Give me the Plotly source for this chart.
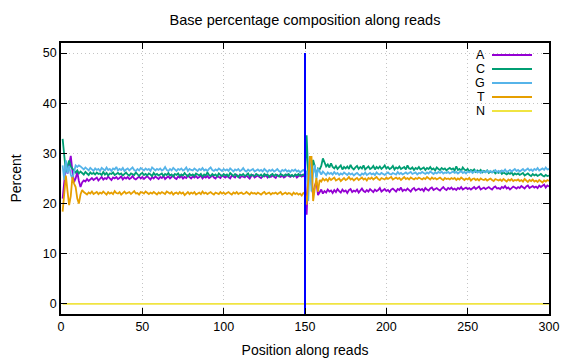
import plotly.graph_objects as go

positions = list(range(1, 301))

A = [21.0, 24.5, 27.6, 26.0, 28.0, 29.5, 26.5, 24.3, 25.0, 26.3, 24.5, 23.3, 24.2, 24.6, 24.4, 24.9, 24.5, 24.8, 25.1, 24.7,
     24.9, 25.2, 24.6, 25.0, 25.3, 24.8, 25.1, 24.9, 25.4, 25.0, 24.7, 25.2, 25.0, 25.3, 24.9, 25.1, 25.4, 24.8, 25.2, 25.0,
     25.3, 24.9, 25.1, 25.5, 25.0, 24.8, 25.2, 25.4, 25.0, 25.3, 24.9, 25.2, 25.5, 25.1, 24.8, 25.3, 25.0, 25.4, 25.2, 24.9,
     25.3, 25.1, 25.5, 24.9, 25.2, 25.4, 25.0, 25.3, 25.6, 25.1, 24.9, 25.4, 25.2, 25.5, 25.0, 25.3, 25.1, 25.6, 25.2, 25.0,
     25.4, 25.2, 25.5, 25.1, 25.3, 25.6, 25.0, 25.4, 25.2, 25.5, 25.1, 25.3, 25.7, 25.2, 25.0, 25.5, 25.3, 25.1, 25.6, 25.4,
     25.2, 25.5, 25.3, 25.0, 25.6, 25.4, 25.2, 25.7, 25.3, 25.1, 25.5, 25.4, 25.2, 25.6, 25.3, 25.0, 25.5, 25.7, 25.2, 25.4,
     25.6, 25.3, 25.1, 25.5, 25.4, 25.7, 25.2, 25.5, 25.3, 25.6, 25.4, 25.1, 25.7, 25.5, 25.3, 25.6, 25.2, 25.4, 25.8, 25.5,
     25.3, 25.6, 25.4, 25.7, 25.2, 25.5, 25.8, 25.4, 25.6, 25.3,
     17.8, 25.7, 27.0, 24.0, 21.7, 23.5, 24.4, 21.7, 22.3, 22.8, 22.0, 22.5, 22.2, 22.8, 22.4,
     22.6, 22.1, 22.7, 22.3, 22.9, 22.5, 22.2, 22.8, 22.4, 22.6, 22.1, 22.7, 22.9, 22.3, 22.6,
     22.4, 22.8, 22.2, 22.6, 23.0, 22.5, 22.3, 22.7, 22.4, 22.9, 22.6, 22.3, 22.8, 22.5, 22.7, 23.1, 22.4, 22.6, 22.9, 22.5,
     22.7, 22.3, 22.8, 23.0, 22.6, 22.4, 22.9, 22.7, 23.2, 22.5, 22.8, 22.6, 23.0, 22.7, 22.4, 22.9, 23.1, 22.6, 22.8, 23.0,
     22.7, 22.9, 22.5, 23.1, 22.8, 22.6, 23.0, 23.2, 22.7, 22.9, 23.1, 22.8, 22.6, 23.0, 23.3, 22.9, 22.7, 23.1, 22.9, 23.2,
     22.8, 23.0, 22.7, 23.1, 22.9, 23.3, 22.8, 23.0, 23.2, 22.9, 23.1, 22.8, 23.0, 23.3, 22.9, 23.1, 23.4, 22.8, 23.0, 23.2,
     22.9, 23.1, 23.3, 23.0, 22.8, 23.2, 23.4, 23.0, 23.1, 22.9, 23.3, 23.1, 23.5, 23.0, 23.2, 22.8, 23.1, 23.4, 23.2, 23.0,
     23.3, 23.1, 23.5, 23.2, 23.0, 23.4, 23.6, 23.1, 23.3, 23.5, 23.2, 23.4, 23.1, 23.6, 23.3, 23.5, 23.8, 23.2, 23.6, 23.4]

C = [32.9, 28.9, 26.3, 27.5, 28.6, 27.4, 27.0, 26.5, 26.2, 26.6, 26.0, 26.4, 26.1, 25.8, 26.3, 26.0, 25.7, 26.2, 25.9, 26.1,
     25.8, 26.2, 25.9, 26.0, 25.7, 26.3, 25.8, 26.1, 25.6, 26.0, 25.9, 26.2, 25.7, 25.9, 26.1, 25.8, 26.0, 25.6, 25.9, 26.2,
     25.8, 25.6, 26.0, 25.9, 25.7, 26.2, 25.8, 25.5, 25.9, 26.1, 25.7, 25.9, 25.6, 26.0, 25.8, 25.5, 26.1, 25.7, 25.9, 25.6,
     25.8, 26.0, 25.5, 25.9, 25.7, 26.1, 25.6, 25.8, 25.4, 25.9, 25.7, 26.0, 25.5, 25.8, 25.6, 26.1, 25.7, 25.4, 25.9, 25.6,
     25.8, 25.5, 26.0, 25.7, 25.6, 25.9, 25.4, 25.8, 25.6, 26.2, 25.7, 25.5, 25.9, 25.6, 25.8, 25.4, 26.0, 25.7, 25.5, 25.9,
     25.6, 25.8, 25.4, 26.1, 25.7, 25.5, 25.9, 25.6, 25.3, 25.8, 25.6, 25.9, 25.5, 25.7, 26.0, 25.4, 25.8, 25.6, 25.5, 25.9,
     25.7, 25.5, 25.8, 25.4, 25.9, 25.6, 25.8, 25.3, 25.7, 25.9, 25.5, 25.8, 25.6, 25.4, 25.9, 25.7, 25.5, 25.8, 25.6, 25.9,
     25.5, 25.7, 25.4, 25.8, 25.6, 25.9, 25.5, 25.7, 25.8, 25.6,
     33.6, 25.7, 26.0, 26.4, 28.7, 27.4, 25.4, 27.0, 26.8, 27.5, 29.0, 28.2, 27.4, 27.8, 27.2,
     28.0, 27.3, 27.0, 27.5, 26.9, 27.2, 27.6, 26.8, 27.3, 27.0, 27.4, 26.9, 27.7, 27.1, 26.8,
     27.2, 27.5, 26.9, 27.3, 27.0, 27.6, 26.8, 27.2, 27.4, 26.9, 27.1, 27.5, 26.8, 27.3, 27.0, 27.4, 26.9, 27.2, 27.6, 27.0,
     27.3, 26.9, 27.1, 27.5, 26.8, 27.2, 27.0, 27.4, 26.9, 27.1, 27.3, 26.8, 27.6, 27.0, 26.9, 27.2, 26.7, 27.1, 26.9, 27.3,
     26.8, 27.0, 27.2, 26.7, 27.1, 26.9, 27.3, 26.8, 27.0, 26.6, 27.2, 26.9, 26.7, 27.1, 26.8, 27.0, 26.6, 26.9, 27.1, 26.8,
     27.0, 26.6, 27.4, 26.7, 26.9, 26.5, 27.2, 26.8, 26.6, 26.9, 26.4, 26.7, 26.5, 26.8, 26.3, 26.6, 26.4, 26.7, 26.2, 26.5,
     26.3, 26.6, 26.1, 26.4, 26.2, 26.5, 26.0, 26.3, 26.1, 26.4, 25.9, 26.2, 26.0, 25.8, 26.1, 25.9, 26.2, 25.7, 26.0, 25.8,
     26.0, 25.7, 25.9, 26.1, 25.6, 25.8, 26.0, 25.7, 25.5, 25.9, 25.6, 25.8, 25.5, 25.7, 25.9, 25.6, 25.4, 25.7, 25.5, 25.6]

G = [27.6, 24.7, 28.6, 26.0, 27.5, 25.8, 25.0, 26.2, 27.6, 27.3, 27.6, 27.4, 27.0, 26.8, 27.2, 26.9, 26.6, 27.1, 26.8, 26.5,
     27.0, 26.7, 26.9, 26.5, 27.1, 26.8, 26.6, 27.2, 26.7, 26.9, 26.5, 27.0, 26.8, 27.3, 26.6, 26.9, 26.7, 27.1, 26.5, 26.8,
     27.0, 26.6, 26.9, 27.2, 26.7, 26.5, 26.9, 26.6, 27.1, 26.8, 26.6, 27.0, 26.7, 26.9, 26.5, 27.2, 26.8, 26.6, 26.9, 26.7,
     27.0, 26.6, 26.8, 27.3, 26.7, 26.5, 26.9, 26.6, 27.1, 26.8, 26.5, 26.9, 26.7, 27.0, 26.6, 26.8, 27.2, 26.5, 26.9, 26.7,
     26.6, 27.0, 26.8, 26.5, 26.9, 26.7, 27.1, 26.6, 26.8, 26.5, 26.9, 27.2, 26.7, 26.5, 26.8, 26.6, 27.0, 26.7, 26.5, 26.9,
     26.6, 26.8, 26.5, 27.0, 26.7, 26.4, 26.8, 26.6, 26.9, 26.5, 26.7, 27.1, 26.6, 26.4, 26.8, 26.5, 26.7, 26.9, 26.4, 26.6,
     26.8, 26.5, 26.7, 26.4, 26.9, 26.6, 26.3, 26.7, 26.5, 26.8, 26.4, 26.6, 26.9, 26.5, 26.3, 26.7, 26.5, 26.8, 26.4, 26.6,
     26.3, 26.7, 26.5, 26.8, 26.4, 26.6, 26.2, 26.5, 26.7, 26.4,
     26.4, 20.5, 29.0, 22.4, 26.0, 27.7, 25.0, 27.0, 26.3, 25.8, 26.4, 26.0, 25.7, 26.2, 25.9,
     26.1, 25.8, 26.3, 25.9, 26.1, 25.7, 26.0, 25.8, 26.2, 25.9, 25.7, 26.1, 25.8, 26.0, 25.6,
     25.9, 26.1, 25.8, 25.6, 26.0, 25.8, 26.2, 25.7, 25.9, 26.1, 25.8, 26.0, 25.7, 26.2, 25.9, 25.8, 26.1, 25.9, 25.7, 26.0,
     26.2, 25.9, 25.8, 26.1, 26.0, 25.8, 26.3, 25.9, 26.1, 25.8, 26.0, 26.2, 25.9, 26.1, 26.3, 25.9, 26.0, 26.2, 25.8, 26.1,
     26.0, 26.3, 26.1, 25.9, 26.2, 26.0, 26.4, 26.1, 25.9, 26.2, 26.0, 26.3, 26.1, 26.4, 26.0, 26.2, 26.1, 26.3, 26.0, 26.2,
     26.4, 26.1, 26.3, 26.0, 26.2, 26.5, 26.1, 26.3, 26.0, 26.4, 26.2, 26.5, 26.1, 26.3, 26.6, 26.2, 26.4, 26.1, 26.5, 26.3,
     26.2, 26.6, 26.3, 26.5, 26.2, 26.4, 26.7, 26.3, 26.5, 26.2, 26.6, 26.4, 26.8, 26.3, 26.5, 26.7, 26.4, 26.6, 26.9, 26.5,
     26.7, 26.4, 26.6, 26.9, 26.5, 26.7, 27.0, 26.6, 26.8, 26.5, 26.9, 26.7, 27.1, 26.6, 26.8, 27.0, 26.7, 27.2, 26.8, 26.9]

T = [18.4, 22.3, 25.6, 22.5, 19.7, 21.5, 25.3, 24.0, 23.3, 21.0, 20.0, 21.8, 22.7, 22.3, 22.0, 21.8, 22.2, 22.0, 22.4, 21.9,
     22.1, 22.3, 21.9, 22.2, 22.0, 22.4, 22.1, 21.8, 22.3, 22.0, 22.2, 21.9, 22.5, 22.1, 22.0, 22.3, 21.8, 22.2, 22.4, 22.0,
     22.1, 22.3, 21.9, 22.2, 22.5, 22.0, 22.1, 21.8, 22.3, 22.2, 22.0, 22.4, 22.1, 21.9, 22.2, 22.0, 22.3, 22.1, 21.8, 22.2,
     22.0, 22.3, 22.1, 21.9, 22.4, 22.2, 22.0, 22.3, 21.8, 22.1, 22.2, 21.9, 22.3, 22.0, 22.2, 21.7, 22.1, 22.3, 21.9, 22.2,
     22.0, 22.3, 21.8, 22.1, 22.2, 21.9, 22.4, 22.0, 22.2, 21.9, 22.1, 22.3, 22.0, 21.8, 22.2, 22.1, 21.9, 22.3, 22.0, 22.2,
     21.9, 22.1, 22.3, 22.0, 21.8, 22.2, 22.0, 22.3, 21.9, 22.1, 22.2, 21.9, 22.0, 22.3, 22.1, 21.8, 22.2, 22.0, 22.1, 21.9,
     22.2, 22.0, 21.8, 22.1, 22.3, 21.9, 22.0, 22.2, 21.8, 22.1, 22.0, 22.2, 21.9, 22.1, 22.3, 21.8, 22.0, 22.2, 21.9, 22.1,
     22.0, 21.7, 22.2, 21.9, 22.1, 21.8, 22.0, 21.6, 22.1, 21.9,
     19.8, 25.0, 29.3, 29.3, 20.5, 23.0, 25.1, 22.4, 24.7, 24.4, 25.0, 24.6, 24.9, 24.5, 25.1,
     24.7, 24.9, 25.2, 24.6, 24.8, 25.0, 24.5, 24.9, 25.1, 24.7, 24.9, 25.3, 24.8, 25.0, 24.6,
     24.9, 25.1, 24.7, 25.0, 25.2, 24.8, 25.0, 24.6, 25.1, 24.9, 25.2, 24.8, 25.0, 25.3, 24.9, 24.7, 25.1, 25.0, 24.8, 25.2,
     24.9, 25.1, 25.3, 24.8, 25.0, 25.2, 24.9, 25.1, 24.7, 25.0, 25.3, 24.9, 25.1, 24.8, 25.2, 25.0, 24.8, 25.1, 24.9, 25.2,
     25.0, 24.8, 25.1, 24.9, 25.3, 25.0, 24.8, 25.2, 24.9, 25.1, 24.8, 25.0, 25.2, 24.9, 24.7, 25.1, 24.9, 25.0, 24.8, 25.1,
     24.9, 25.1, 24.7, 25.0, 24.8, 25.2, 24.9, 24.7, 25.0, 24.8, 25.1, 24.6, 24.9, 25.0, 24.7, 24.9, 24.6, 25.0, 24.8, 24.7,
     24.9, 24.6, 24.8, 25.0, 24.7, 24.5, 24.9, 24.7, 24.6, 24.8, 24.5, 24.9, 24.7, 24.4, 24.8, 24.6, 24.9, 24.5, 24.7, 24.6,
     24.8, 24.5, 24.7, 24.4, 24.9, 24.6, 24.3, 24.7, 24.5, 24.8, 24.4, 24.6, 24.3, 24.7, 24.5, 24.2, 24.6, 24.4, 24.7, 24.5]

N = [0.0, 0.0, 0.0, 0.0, 0.0, 0.0, 0.0, 0.0, 0.0, 0.0, 0.0, 0.0, 0.0, 0.0, 0.0, 0.0, 0.0, 0.0, 0.0, 0.0,
     0.0, 0.0, 0.0, 0.0, 0.0, 0.0, 0.0, 0.0, 0.0, 0.0, 0.0, 0.0, 0.0, 0.0, 0.0, 0.0, 0.0, 0.0, 0.0, 0.0,
     0.0, 0.0, 0.0, 0.0, 0.0, 0.0, 0.0, 0.0, 0.0, 0.0, 0.0, 0.0, 0.0, 0.0, 0.0, 0.0, 0.0, 0.0, 0.0, 0.0,
     0.0, 0.0, 0.0, 0.0, 0.0, 0.0, 0.0, 0.0, 0.0, 0.0, 0.0, 0.0, 0.0, 0.0, 0.0, 0.0, 0.0, 0.0, 0.0, 0.0,
     0.0, 0.0, 0.0, 0.0, 0.0, 0.0, 0.0, 0.0, 0.0, 0.0, 0.0, 0.0, 0.0, 0.0, 0.0, 0.0, 0.0, 0.0, 0.0, 0.0,
     0.0, 0.0, 0.0, 0.0, 0.0, 0.0, 0.0, 0.0, 0.0, 0.0, 0.0, 0.0, 0.0, 0.0, 0.0, 0.0, 0.0, 0.0, 0.0, 0.0,
     0.0, 0.0, 0.0, 0.0, 0.0, 0.0, 0.0, 0.0, 0.0, 0.0, 0.0, 0.0, 0.0, 0.0, 0.0, 0.0, 0.0, 0.0, 0.0, 0.0,
     0.0, 0.0, 0.0, 0.0, 0.0, 0.0, 0.0, 0.0, 0.0, 0.0, 0.0, 0.0, 0.0, 0.0, 0.0, 0.0, 0.0, 0.0, 0.0, 0.0,
     0.0, 0.0, 0.0, 0.0, 0.0, 0.0, 0.0, 0.0, 0.0, 0.0, 0.0, 0.0, 0.0, 0.0, 0.0, 0.0, 0.0, 0.0, 0.0, 0.0,
     0.0, 0.0, 0.0, 0.0, 0.0, 0.0, 0.0, 0.0, 0.0, 0.0, 0.0, 0.0, 0.0, 0.0, 0.0, 0.0, 0.0, 0.0, 0.0, 0.0,
     0.0, 0.0, 0.0, 0.0, 0.0, 0.0, 0.0, 0.0, 0.0, 0.0, 0.0, 0.0, 0.0, 0.0, 0.0, 0.0, 0.0, 0.0, 0.0, 0.0,
     0.0, 0.0, 0.0, 0.0, 0.0, 0.0, 0.0, 0.0, 0.0, 0.0, 0.0, 0.0, 0.0, 0.0, 0.0, 0.0, 0.0, 0.0, 0.0, 0.0,
     0.0, 0.0, 0.0, 0.0, 0.0, 0.0, 0.0, 0.0, 0.0, 0.0, 0.0, 0.0, 0.0, 0.0, 0.0, 0.0, 0.0, 0.0, 0.0, 0.0,
     0.0, 0.0, 0.0, 0.0, 0.0, 0.0, 0.0, 0.0, 0.0, 0.0, 0.0, 0.0, 0.0, 0.0, 0.0, 0.0, 0.0, 0.0, 0.0, 0.0,
     0.0, 0.0, 0.0, 0.0, 0.0, 0.0, 0.0, 0.0, 0.0, 0.0, 0.0, 0.0, 0.0, 0.0, 0.0, 0.0, 0.0, 0.0, 0.0, 0.0]

base_names = ["A", "C", "G", "T", "N"]
base_colors = ["#9400d3", "#009e73", "#56b4e9", "#e69f00", "#f0e442"]

read_boundary_x = [150, 150]
read_boundary_y = [-2, 50]

x_ticks = [0, 50, 100, 150, 200, 250, 300]
y_ticks = [0, 10, 20, 30, 40, 50]

FONT = "Liberation Sans, Arial, sans-serif"

fig = go.Figure()
for name, vals, col in zip(base_names, [A, C, G, T, N], base_colors):
    fig.add_trace(go.Scatter(x=positions, y=vals, mode="lines", name=name,
                             line=dict(color=col, width=1.8), showlegend=False))

fig.add_trace(go.Scatter(x=read_boundary_x, y=read_boundary_y, mode="lines",
                         line=dict(color="#0000ff", width=2), showlegend=False))

# gnuplot-style key (label left, sample line right), placed in pixel offsets
# from the top-right corner of the plot frame
key_rows_px = [12, 26, 40, 54, 68]
for name, col, dy in zip(base_names, base_colors, key_rows_px):
    fig.add_annotation(x=1, y=1, xref="paper", yref="paper", text=name,
                       xshift=-62, yshift=-dy, showarrow=False,
                       xanchor="right", yanchor="middle",
                       font=dict(family=FONT, size=12.5, color="black"))
    fig.add_shape(type="line", xref="paper", yref="paper", xsizemode="pixel",
                  ysizemode="pixel", xanchor=1, yanchor=1,
                  x0=-57, x1=-17, y0=-dy, y1=-dy, line=dict(color=col, width=2))

axis_common = dict(showline=True, linecolor="black", linewidth=1.5, mirror="ticks",
                   ticks="inside", ticklen=6, tickcolor="black", tickwidth=1,
                   showgrid=True, gridcolor="#c4c4c4", griddash="1px,3px", gridwidth=1,
                   zeroline=False, automargin=False,
                   tickfont=dict(family=FONT, size=12.5, color="black"))

fig.update_layout(
    width=576, height=360,
    margin=dict(l=53, r=35, t=35, b=54),
    paper_bgcolor="white", plot_bgcolor="white",
    font=dict(family=FONT, size=12.5, color="black"),
    title=dict(text="Base percentage composition along reads", x=0.5, xref="paper",
               xanchor="center", y=0.966, yanchor="middle", automargin=False,
               font=dict(family=FONT, size=14.5, color="black")),
    xaxis=dict(range=[0, 300], tickvals=x_ticks,
               title=dict(text="Position along reads", standoff=12,
                          font=dict(family=FONT, size=14, color="black")),
               **axis_common),
    yaxis=dict(range=[-2, 52], tickvals=y_ticks,
               title=dict(text="Percent", standoff=18,
                          font=dict(family=FONT, size=14, color="black")),
               **axis_common),
)

fig.write_html("out.html")
